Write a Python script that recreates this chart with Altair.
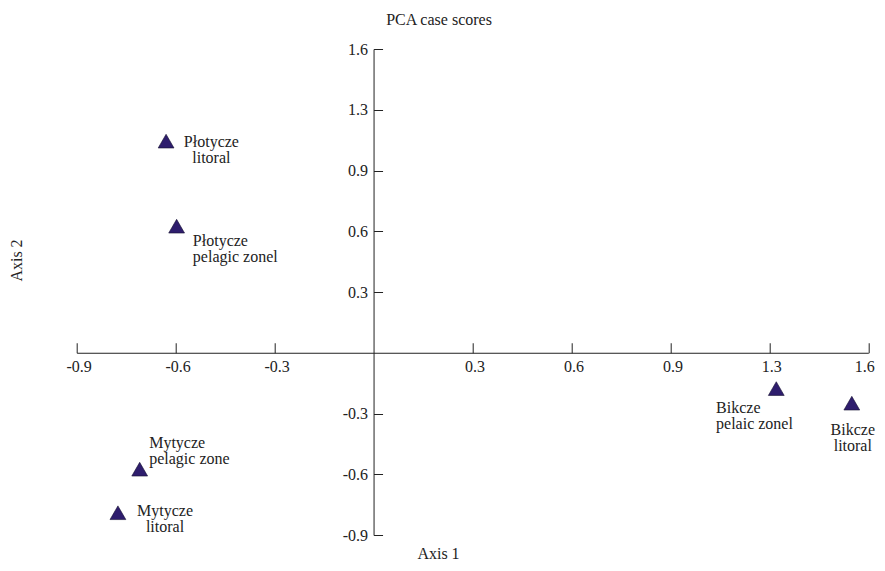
import altair as alt
import pandas as pd

# ---- data ----
names = ["Płotycze litoral", "Płotycze pelagic zonel", "Mytycze pelagic zone",
         "Mytycze litoral", "Bikcze pelaic zonel", "Bikcze litoral"]
labels = ["Płotycze\nlitoral", "Płotycze\npelagic zonel", "Mytycze\npelagic zone",
          "Mytycze\nlitoral", "Bikcze\npelaic zonel", "Bikcze\nlitoral"]
axis1 = [-0.629, -0.597, -0.709, -0.775, 1.221, 1.450]
axis2 = [1.045, 0.625, -0.575, -0.790, -0.177, -0.249]

tick_pos = [-0.9, -0.6, -0.3, 0.3, 0.6, 0.9, 1.2, 1.5]
tick_labels = ["-0.9", "-0.6", "-0.3", "0.3", "0.6", "0.9", "1.3", "1.6"]

# ---- label layout (pixel offsets from each triangle) ----
label_align = ["center", "left", "left", "center", "left", "center"]
label_dx = [45.3, 16.2, 9.5, 47.1, -60.2, 1.0]
label_dy = [6.0, 20.0, -21.4, 3.5, 24.8, 31.9]

FONT = "Liberation Serif"
INK = "#222222"

df = pd.DataFrame({"name": names, "label": labels, "a1": axis1, "a2": axis2})

W, H = 791.6, 486.0
dom = [-0.9, 1.5]
x0 = (0 - dom[0]) / (dom[1] - dom[0]) * W
y0 = H - (0 - dom[0]) / (dom[1] - dom[0]) * H

label_expr = "[{}][indexof([{}], datum.value)]".format(
    ",".join("'%s'" % t for t in tick_labels), ",".join(str(v) for v in tick_pos))

common_axis = dict(
    values=tick_pos, labelExpr=label_expr, grid=False,
    domainColor=INK, tickColor=INK, domainWidth=1, tickWidth=1,
    labelFont=FONT, labelFontSize=16, labelColor=INK,
    titleFont=FONT, titleFontSize=16, titleFontWeight="normal", titleColor=INK,
    labelFlush=False, labelOverlap=False, labelBound=False,
)

xaxis = alt.Axis(
    orient="top", offset=-y0, tickSize=10, labelPadding=-16,
    labelBaseline="top", labelAlign="center",
    labelOffset={"condition": {"test": "datum.value == %s" % tick_pos[-1], "value": -4},
                 "value": 2},
    title="Axis 1", titleX=438 - 76.7, titleY=558.5 - (49 + y0),
    titleAlign="center", titleBaseline="alphabetic", titleAngle=0,
    **common_axis)
yaxis = alt.Axis(
    orient="right", offset=-(W - x0), tickSize=9, labelPadding=-15,
    labelAlign="right", labelBaseline="middle",
    title="Axis 2", titleX=16 - (76.7 + x0), titleY=260 - 49,
    titleAlign="center", titleBaseline="middle", titleAngle=270,
    **common_axis)

xs = alt.Scale(domain=dom, nice=False, zero=False)
ys = alt.Scale(domain=dom, nice=False, zero=False)

base = alt.Chart(df).encode(
    x=alt.X("a1:Q", scale=xs, axis=xaxis),
    y=alt.Y("a2:Q", scale=ys, axis=yaxis),
)

points = base.mark_point(shape="triangle-up", filled=True, size=250,
                         fill="#2e1d6d", stroke="#151030", strokeWidth=0.6,
                         opacity=1)

layers = [points]
for i, n in enumerate(names):
    layers.append(
        base.transform_filter(alt.datum.name == n).mark_text(
            align=label_align[i], dx=label_dx[i], dy=label_dy[i],
            baseline="alphabetic", lineBreak="\n", lineHeight=16,
            font=FONT, fontSize=16, color=INK,
        ).encode(text="label:N")
    )

chart = alt.layer(*layers).properties(
    width=W, height=H,
    autosize="none",
    padding={"left": 68.7, "top": 41, "right": 8.7, "bottom": 28},
    title=alt.Title("PCA case scores", font=FONT, fontSize=16,
                    fontWeight="normal", color=INK, anchor="middle",
                    dx=-33.5, offset=13),
).configure_view(stroke=None)

chart.save("out.html", embed_options={"renderer": "svg", "actions": False})
